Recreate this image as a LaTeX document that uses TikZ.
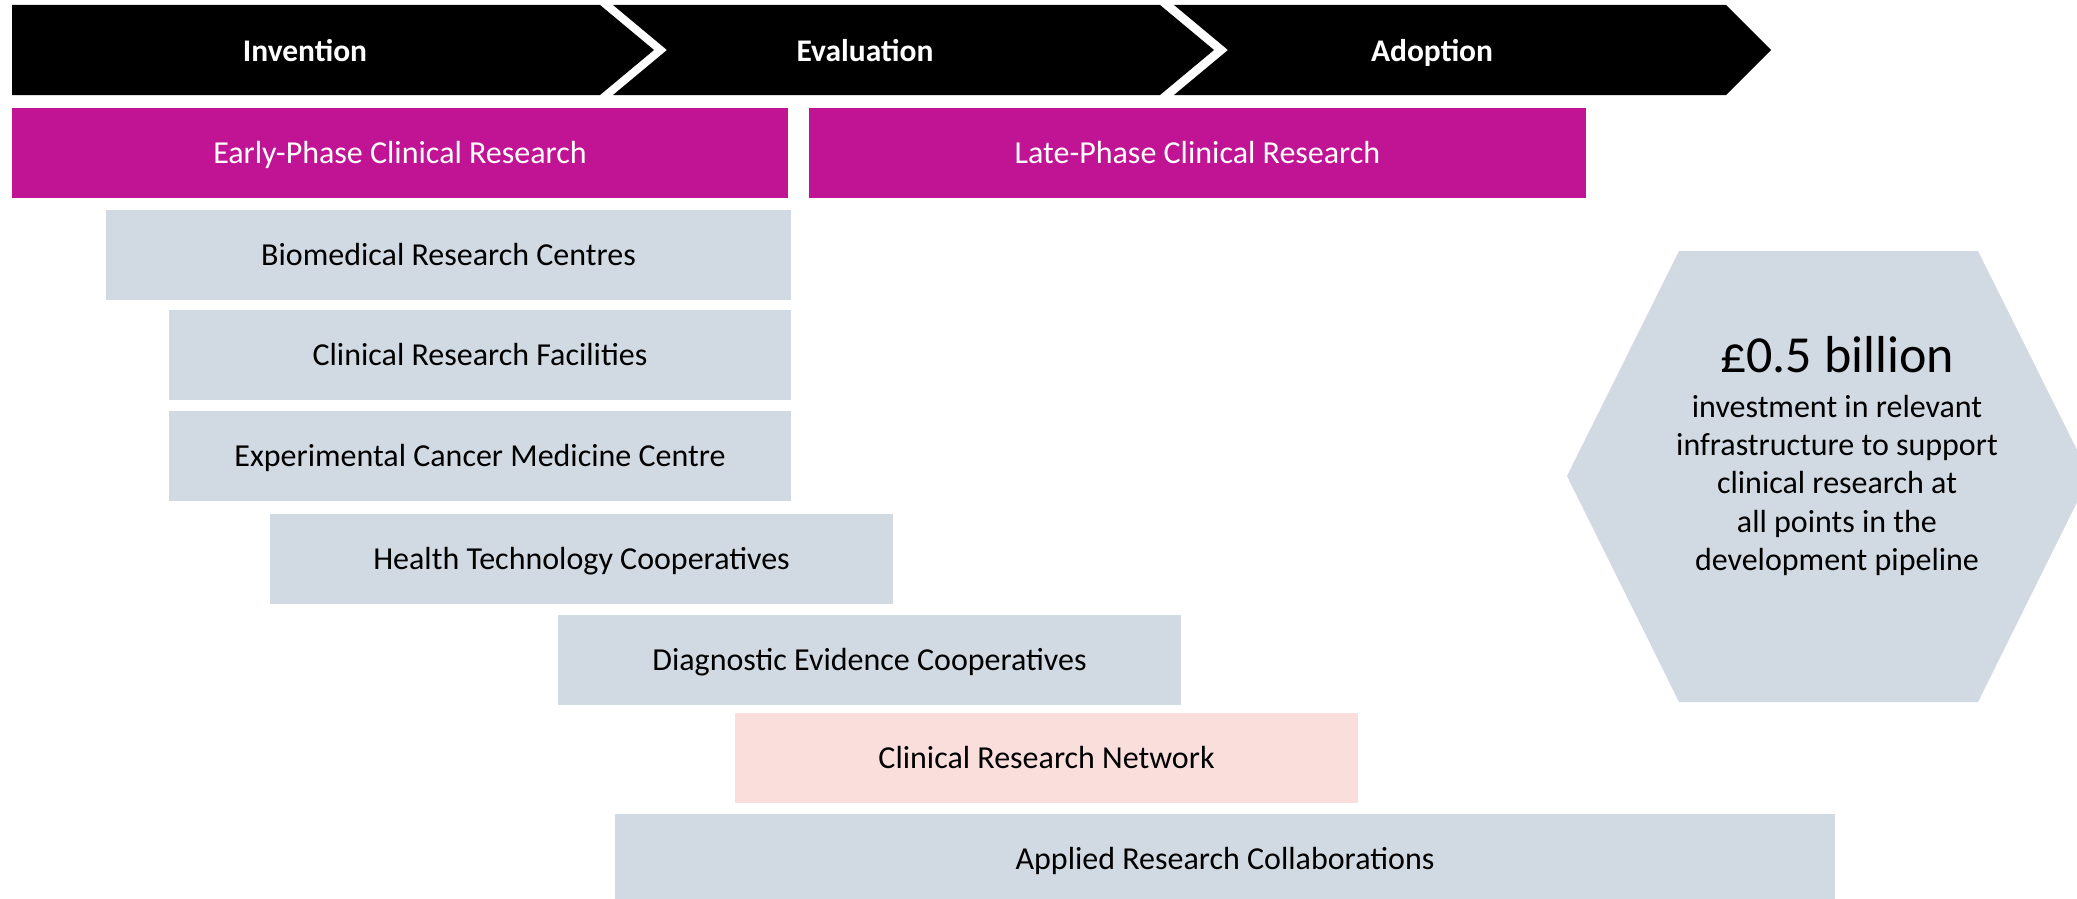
\documentclass[tikz,border=0pt]{standalone}
\usepackage{fontspec}
\setmainfont{Carlito}
\definecolor{magentabox}{HTML}{C11494}
\definecolor{greybox}{HTML}{D1D9E2}
\definecolor{pinkbox}{HTML}{F9DEDC}
\tikzset{
  txt/.style={font=\fontsize{32}{38.5}\selectfont, text height=21.5pt, text depth=0pt},
  phase/.style={txt, font=\fontsize{31.5}{38.5}\selectfont\bfseries, text=white, inner sep=0pt},
  bar/.style={rectangle, inner sep=0pt, minimum height=90pt, txt},
  magbox/.style={bar, fill=magentabox, text=white},
  gbox/.style={bar, fill=greybox, text=black},
  pbox/.style={bar, fill=pinkbox, text=black},
  hextxt/.style={anchor=base, inner sep=0pt, font=\fontsize{32}{38.5}\selectfont},
}
\begin{document}
\begin{tikzpicture}[x=1pt,y=-1pt]
\useasboundingbox (0,0) rectangle (2077,899);
\clip (0,0) rectangle (2077,899);
% chevron bar
\fill[black] (12,5) -- (600,5) -- (654,50) -- (600,95) -- (12,95) -- cycle;
\fill[black] (613,5) -- (1160,5) -- (1214,50) -- (1160,95) -- (613,95) -- (667,50) -- cycle;
\fill[black] (1174,5) -- (1726,5) -- (1771,50) -- (1726,95) -- (1174,95) -- (1228,50) -- cycle;
\node[phase] (inv) at (305,51) {Invention};
\node[phase] (eval) at (865,51) {Evaluation};
\node[phase] (adopt) at (1432,51) {Adoption};
% phase boxes
\node[magbox, minimum width=776pt] (early) at (400,153) {Early-Phase Clinical Research};
\node[magbox, minimum width=777pt] (late) at (1197.5,153) {Late-Phase Clinical Research};
% infrastructure boxes
\node[gbox, minimum width=685pt] (brc) at (448.5,255) {Biomedical Research Centres};
\node[gbox, minimum width=622pt] (crf) at (480,355) {Clinical Research Facilities};
\node[gbox, minimum width=622pt] (ecmc) at (480,456) {Experimental Cancer Medicine Centre};
\node[gbox, minimum width=623pt] (htc) at (581.5,559) {Health Technology Cooperatives};
\node[gbox, minimum width=623pt] (dec) at (869.5,660) {Diagnostic Evidence Cooperatives};
\node[pbox, minimum width=623pt] (crn) at (1046.5,758) {Clinical Research Network};
\node[gbox, minimum width=1220pt] (arc) at (1225,859) {Applied Research Collaborations};
% hexagon
\fill[greybox] (1679,251) -- (1978,251) -- (2090,476) -- (1978,702) -- (1679,702) -- (1567,476) -- cycle;
\node[hextxt, font=\fontsize{52}{60}\selectfont] (big) at (1837,372) {£0.5 billion};
\node[hextxt] (h1) at (1837,417) {investment in relevant};
\node[hextxt] (h2) at (1837,455) {infrastructure to support};
\node[hextxt] (h3) at (1837,493) {clinical research at};
\node[hextxt] (h4) at (1837,532) {all points in the};
\node[hextxt] (h5) at (1837,570) {development pipeline};
\end{tikzpicture}
\end{document}
